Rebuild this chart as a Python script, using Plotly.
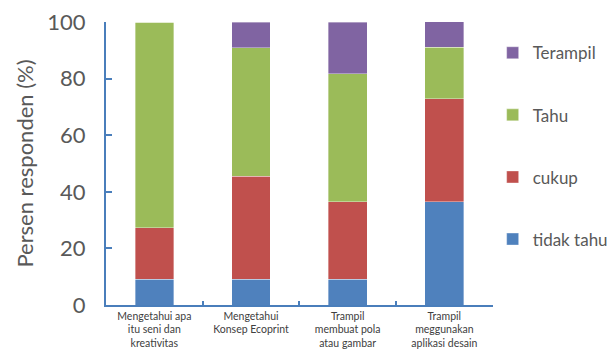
import plotly.graph_objects as go

categories = [
    "Mengetahui apa<br>itu seni dan<br>kreativitas",
    "Mengetahui<br>Konsep Ecoprint",
    "Trampil<br>membuat pola<br>atau gambar",
    "Trampil<br>meggunakan<br>aplikasi desain",
]
series_names = ["tidak tahu", "cukup", "Tahu", "Terampil"]
tidak_tahu = [9.1, 9.1, 9.1, 36.4]
cukup = [18.2, 36.4, 27.3, 36.4]
tahu = [72.7, 45.4, 45.4, 18.2]
terampil = [0.0, 9.1, 18.2, 9.1]
y_ticks = [0, 20, 40, 60, 80, 100]

colors = ["#4F81BD", "#C0504D", "#9BBB59", "#8064A2"]
values = [tidak_tahu, cukup, tahu, terampil]

AXIS = "#4A7EBB"
FONT = "Lato, 'Open Sans', sans-serif"

fig = go.Figure()
for i, (name, vals, col) in enumerate(zip(series_names, values, colors)):
    fig.add_trace(go.Bar(
        x=categories, y=vals, name=name, legendgroup=name,
        legendrank=len(series_names) - i,
        marker=dict(color=col, line=dict(width=0.6, color="rgba(255,255,255,0.6)")),
    ))

fig.update_layout(
    barmode="stack",
    bargap=0.6,
    width=612, height=363,
    margin=dict(l=106, r=118, t=22, b=58),
    paper_bgcolor="white", plot_bgcolor="white",
    font=dict(family=FONT, color="#595959"),
    showlegend=True,
    legend=dict(
        traceorder="grouped",
        tracegroupgap=37,
        xref="container", yref="container",
        x=0.805, xanchor="left",
        y=0.903, yanchor="top",
        maxheight=340,
        font=dict(size=17, color="#595959"),
        bgcolor="rgba(0,0,0,0)",
    ),
)
fig.update_xaxes(
    automargin=False,
    showline=True, linecolor=AXIS, linewidth=2,
    ticks="inside", tickson="boundaries", ticklen=4, tickcolor=AXIS, tickwidth=2,
    tickfont=dict(size=10.5, color="#404040"),
    showgrid=False, zeroline=False,
)
fig.update_yaxes(
    automargin=False,
    range=[0, 100], tickvals=y_ticks,
    showline=True, linecolor=AXIS, linewidth=2,
    ticks="inside", ticklen=6, tickcolor=AXIS, tickwidth=2,
    tickfont=dict(size=22, color="#595959"),
    ticklabelstandoff=14,
    showgrid=False, zeroline=False,
    title=dict(text="Persen responden (%)", font=dict(size=22, color="#595959"), standoff=8),
)

fig.write_html("out.html")
